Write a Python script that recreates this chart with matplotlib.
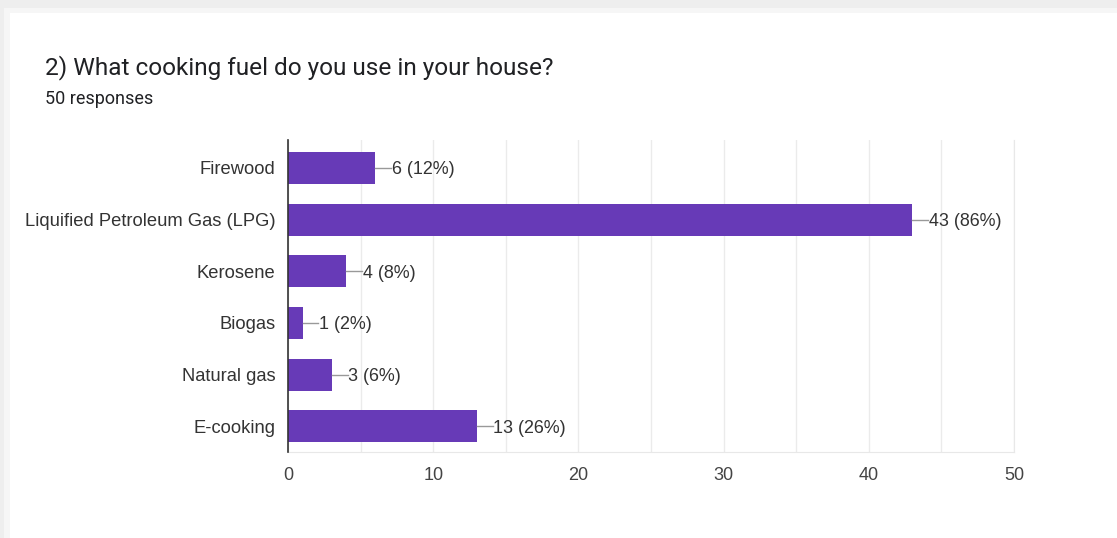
import matplotlib.pyplot as plt
from matplotlib.patches import Rectangle

# Survey answers
fuels = ['Firewood', 'Liquified Petroleum Gas (LPG)', 'Kerosene', 'Biogas',
         'Natural gas', 'E-cooking']
counts = [6, 43, 4, 1, 3, 13]
total = 50

BAR_COLOR = '#673ab7'
TEXT_COLOR = '#333333'
CHART_FONT = ['Liberation Sans', 'DejaVu Sans']

plt.rcParams['font.family'] = ['Roboto', 'DejaVu Sans']

fig = plt.figure(figsize=(11.17, 5.38), dpi=100)
fig.patch.set_facecolor('#eeeeee')

# white card with a soft edge
fig.patches.append(Rectangle((0.004, 0), 1.0, 0.985, transform=fig.transFigure,
                             facecolor='#f6f6f6', edgecolor='none', zorder=-2))
fig.patches.append(Rectangle((0.009, 0), 1.0, 0.976, transform=fig.transFigure,
                             facecolor='white', edgecolor='none', zorder=-1))

fig.text(45 / 1117, 1 - 68 / 538, '2) What cooking fuel do you use in your house?',
         fontsize=17.6, color='#202124', va='center', ha='left')
fig.text(45 / 1117, 1 - 99 / 538, f'{total} responses',
         fontsize=13, color='#202124', va='center', ha='left')

ax = fig.add_axes([288 / 1117, 1 - 452 / 538, (1014 - 288) / 1117, (452 - 140) / 538])
ax.set_facecolor('white')

y = list(range(len(fuels)))
ax.barh(y, counts, height=0.62, color=BAR_COLOR, zorder=3)

for yi, c in zip(y, counts):
    ax.plot([c, c + 1.1], [yi, yi], color='#999999', lw=1, zorder=3)
    ax.text(c + 1.15, yi, f'{c} ({c * 100 // total}%)', va='center_baseline', ha='left',
            fontsize=12.9, color=TEXT_COLOR, zorder=4, family=CHART_FONT)

ax.set_xlim(0, 50)
ax.set_ylim(len(fuels) - 0.5, -0.54)
ax.set_yticks(y)
ax.set_yticklabels(fuels, fontsize=13.2, color=TEXT_COLOR, family=CHART_FONT)
ax.set_xticks(range(0, 51, 10))
ax.set_xticks(range(5, 50, 10), minor=True)
for lbl in ax.get_xticklabels():
    lbl.set_family(CHART_FONT)
ax.tick_params(axis='x', which='both', length=0, labelsize=13, labelcolor='#444444', pad=11)
ax.tick_params(axis='y', length=0, pad=9)
ax.grid(axis='x', which='both', color='#ebebeb', lw=1, zorder=0)

for side in ['top', 'right', 'bottom']:
    ax.spines[side].set_color('#e8e8e8')
ax.spines['top'].set_visible(False)
ax.spines['left'].set_color('#333333')
ax.spines['left'].set_linewidth(1.2)
ax.spines['left'].set_zorder(5)

fig.savefig('out.png', dpi=100, facecolor=fig.get_facecolor())
